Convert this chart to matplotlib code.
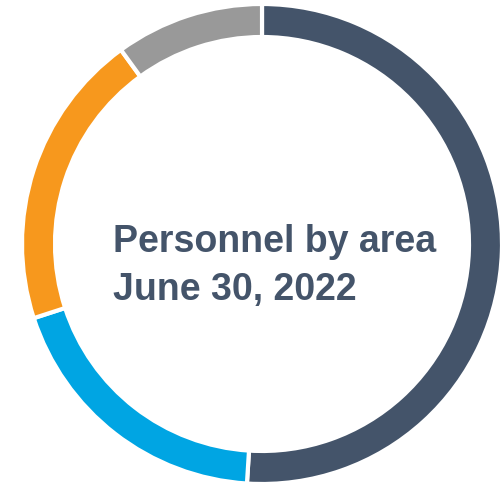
import matplotlib.pyplot as plt

# personnel share by area
areas = ["Area A", "Area B", "Area C", "Area D"]
shares = [51, 19, 20, 10]
colors = ["#44546A", "#00A5E3", "#F7981D", "#999999"]
title_lines = ["Personnel by area", "June 30, 2022"]

fig = plt.figure(figsize=(5.02, 4.85), dpi=100)
ax = fig.add_axes([0, 0, 1, 1])
ax.pie(shares, colors=colors, startangle=90, counterclock=False, radius=1.0,
       wedgeprops=dict(width=0.1375, edgecolor="white", linewidth=3))
ax.set_xlim(-1.0917, 1.0)
ax.set_ylim(-1.0, 1.0208)
ax.set_aspect("equal")
ax.axis("off")

ax.text(-0.621, -0.029, title_lines[0], fontsize=27, fontweight="bold",
        family="Liberation Sans", color="#44546A", ha="left", va="baseline")
ax.text(-0.621, -0.229, title_lines[1], fontsize=27, fontweight="bold",
        family="Liberation Sans", color="#44546A", ha="left", va="baseline")

plt.savefig("out.png", dpi=100)
